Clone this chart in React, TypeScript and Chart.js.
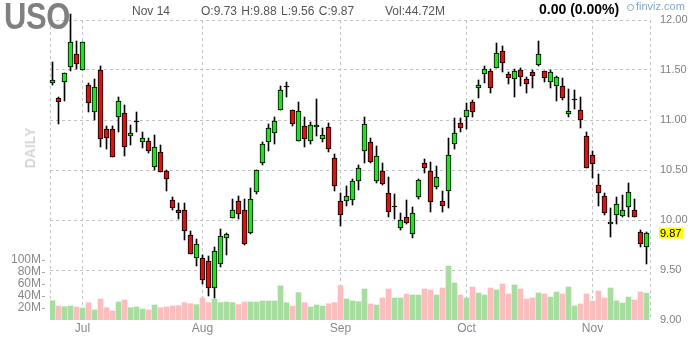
import React, { useEffect, useRef } from 'react';
import { Chart, registerables } from 'chart.js';

Chart.register(...registerables);

// Daily USO candles, Jun 24 – Nov 14 (one entry per trading day)
const opens = [
  11.37, 11.22, 11.38, 11.53, 11.66, 11.50, 11.35, 11.08, 11.50, 10.91,
  10.91, 11.03, 11.07, 10.84, 10.98, 10.78, 10.79, 10.53, 10.68, 10.49,
  10.20, 10.10, 10.10, 9.85, 9.62, 9.62, 9.59, 9.32, 9.56, 9.82,
  10.02, 10.19, 10.10, 9.87, 10.28, 10.57, 10.78, 10.87, 11.10, 11.33,
  11.10, 10.79, 10.94, 10.79, 10.93, 10.81, 10.93, 10.62, 10.19, 10.19,
  10.20, 10.39, 10.69, 10.78, 10.39, 10.49, 10.27, 10.13, 9.92, 10.03,
  9.86, 10.23, 10.57, 10.49, 10.33, 10.19, 10.29, 10.76, 10.97, 11.03,
  11.18, 11.32, 11.46, 11.49, 11.52, 11.69, 11.46, 11.41, 11.50, 11.41,
  11.48, 11.55, 11.49, 11.38, 11.34, 11.34, 11.06, 11.20, 11.10, 10.84,
  10.65, 10.35, 10.24, 9.96, 10.05, 10.04, 10.13, 10.10, 9.88, 9.73,
];
const highs = [
  11.58, 11.23, 11.47, 12.06, 11.79, 11.78, 11.37, 11.41, 11.54, 10.94,
  10.94, 11.23, 11.15, 10.95, 11.08, 10.88, 10.82, 10.85, 10.75, 10.50,
  10.23, 10.17, 10.17, 9.89, 9.81, 9.65, 9.64, 9.73, 9.91, 9.87,
  10.21, 10.24, 10.21, 10.32, 10.50, 10.78, 10.96, 11.03, 11.34, 11.38,
  11.10, 11.18, 11.03, 10.98, 11.21, 10.92, 10.97, 10.66, 10.27, 10.34,
  10.41, 10.55, 11.03, 10.82, 10.74, 10.57, 10.43, 10.26, 10.07, 10.20,
  10.13, 10.41, 10.61, 10.58, 10.54, 10.29, 10.82, 11.02, 11.02, 11.17,
  11.20, 11.40, 11.54, 11.51, 11.77, 11.74, 11.48, 11.51, 11.52, 11.43,
  11.50, 11.79, 11.49, 11.50, 11.44, 11.42, 11.31, 11.30, 11.23, 10.88,
  10.69, 10.46, 10.27, 10.12, 10.23, 10.25, 10.37, 10.21, 9.90, 9.88,
];
const lows = [
  11.35, 10.96, 11.19, 11.49, 11.51, 11.50, 11.08, 11.00, 10.73, 10.71,
  10.63, 10.88, 10.64, 10.75, 10.88, 10.72, 10.67, 10.50, 10.48, 10.29,
  10.10, 10.01, 9.80, 9.66, 9.54, 9.36, 9.24, 9.22, 9.53, 9.65,
  10.02, 10.01, 9.75, 9.86, 10.26, 10.55, 10.69, 10.76, 11.10, 11.23,
  10.94, 10.79, 10.73, 10.76, 10.84, 10.78, 10.68, 10.29, 9.94, 10.14,
  10.15, 10.30, 10.57, 10.57, 10.37, 10.35, 10.03, 10.01, 9.90, 9.96,
  9.82, 10.21, 10.47, 10.08, 10.31, 10.08, 10.12, 10.71, 10.88, 10.91,
  11.03, 11.22, 11.37, 11.27, 11.52, 11.48, 11.36, 11.23, 11.34, 11.27,
  11.32, 11.54, 11.38, 11.32, 11.19, 11.20, 11.03, 11.11, 10.92, 10.52,
  10.42, 10.14, 10.05, 9.83, 9.96, 10.03, 10.03, 10.03, 9.73, 9.56,
];
const closes = [
  11.40, 11.18, 11.47, 11.78, 11.56, 11.78, 11.17, 11.33, 10.81, 10.82,
  10.63, 11.19, 10.73, 10.87, 10.99, 10.82, 10.69, 10.73, 10.48, 10.41,
  10.12, 10.07, 9.89, 9.66, 9.76, 9.40, 9.32, 9.69, 9.84, 9.86,
  10.10, 10.06, 9.76, 10.21, 10.50, 10.76, 10.92, 10.99, 11.30, 11.34,
  10.96, 11.09, 10.81, 10.95, 10.95, 10.85, 10.71, 10.34, 10.05, 10.24,
  10.39, 10.52, 10.96, 10.58, 10.64, 10.36, 10.08, 10.14, 10.00, 9.97,
  10.07, 10.40, 10.52, 10.18, 10.43, 10.14, 10.65, 10.87, 10.92, 11.10,
  11.08, 11.35, 11.51, 11.32, 11.67, 11.57, 11.42, 11.49, 11.43, 11.36,
  11.44, 11.66, 11.42, 11.48, 11.43, 11.22, 11.09, 11.21, 11.00, 10.52,
  10.56, 10.27, 10.07, 9.98, 10.16, 10.10, 10.28, 10.03, 9.76, 9.87,
];
// volume in millions of shares
const volumes = [
  32.2, 23.3, 22.2, 23.3, 21.7, 20.0, 28.9, 16.7, 35.0, 20.6,
  15.0, 30.0, 33.3, 20.6, 21.7, 18.3, 16.7, 25.0, 20.6, 21.7,
  23.3, 23.9, 28.9, 27.2, 25.6, 36.7, 28.9, 35.0, 28.9, 30.0,
  28.9, 25.6, 30.0, 30.0, 30.0, 31.7, 31.7, 31.7, 56.7, 28.9,
  23.3, 45.6, 28.9, 21.7, 25.0, 23.3, 27.2, 28.9, 57.2, 35.0,
  31.7, 30.6, 51.7, 26.7, 25.0, 36.7, 51.7, 36.7, 36.7, 43.3,
  41.7, 41.7, 51.7, 50.0, 41.7, 53.3, 90.0, 61.7, 41.7, 36.7,
  55.0, 45.0, 41.7, 53.3, 50.0, 60.0, 43.3, 58.3, 51.7, 35.0,
  36.7, 45.0, 43.3, 38.3, 46.7, 43.3, 55.0, 23.3, 26.7, 43.3,
  31.7, 48.3, 36.7, 53.3, 31.7, 28.3, 38.3, 33.3, 46.7, 44.72,
];

const monthLabels = ['Jul', 'Aug', 'Sep', 'Oct', 'Nov'];
const monthStartIndex = [5, 25, 48, 69, 90];
const priceTicks = [9.0, 9.5, 10.0, 10.5, 11.0, 11.5, 12.0];
const volumeTicks = [20, 40, 60, 80, 100];

const GREEN = '#1ee31e';
const RED = '#dc1212';
const VOL_GREEN = 'rgb(168,221,160)';
const VOL_RED = 'rgb(250,190,190)';
const GRID = '#c4c4c4';
const FONT = '"Liberation Sans", Arial, sans-serif';

const X_MIN = -2.5 / 6;
const X_MAX = opens.length - 2.5 / 6;

export default function App() {
  const canvasRef = useRef<HTMLCanvasElement | null>(null);

  useEffect(() => {
    if (!canvasRef.current) return;
    const idx = opens.map((_, i) => i);
    const isUp = (i: number) => closes[i] >= opens[i];
    const isDoji = (i: number) => Math.abs(closes[i] - opens[i]) < 0.015;

    // dashed grid drawn from the chart's own scales
    const dashedGridPlugin = {
      id: 'dashedGrid',
      beforeDatasetsDraw(chart: any) {
        const { ctx, chartArea, scales } = chart;
        const a = (v: number) => Math.round(v - 0.5) + 0.5;
        ctx.save();
        ctx.strokeStyle = GRID;
        ctx.lineWidth = 1;
        ctx.setLineDash([3, 3]);
        ctx.beginPath();
        [X_MIN, ...monthStartIndex, X_MAX].forEach((v) => {
          const x = a(scales.x.getPixelForValue(v));
          ctx.moveTo(x, chartArea.top);
          ctx.lineTo(x, chartArea.bottom);
        });
        priceTicks.slice(1).forEach((v) => {
          const y = a(scales.y.getPixelForValue(v));
          ctx.moveTo(chartArea.left, y);
          ctx.lineTo(chartArea.right, y);
        });
        ctx.stroke();
        ctx.restore();
      },
    };

    const lastPricePlugin = {
      id: 'lastPrice',
      afterDraw(chart: any) {
        const ctx = chart.ctx;
        const last = closes[closes.length - 1];
        const y = chart.scales.y.getPixelForValue(last);
        ctx.save();
        ctx.fillStyle = '#ffff00';
        ctx.fillRect(659, Math.round(y) - 5.5, 24, 11);
        ctx.fillStyle = '#000';
        ctx.font = '11px ' + FONT;
        ctx.textBaseline = 'middle';
        ctx.textAlign = 'left';
        ctx.fillText(last.toFixed(2), 660, y + 0.5);
        ctx.restore();
      },
    };

    const chart = new Chart(canvasRef.current, {
      type: 'bar',
      data: {
        datasets: [
          {
            label: 'body',
            data: idx.map((i) => ({ x: i, y: [opens[i], closes[i]] })),
            backgroundColor: idx.map((i) => (isDoji(i) ? '#000' : isUp(i) ? GREEN : RED)),
            borderColor: '#000',
            borderWidth: 1,
            borderSkipped: false,
            barThickness: 5,
            grouped: false,
            yAxisID: 'y',
            order: 1,
            clip: false,
          } as any,
          {
            label: 'wick',
            data: idx.map((i) => ({ x: i, y: [lows[i], highs[i]] })),
            backgroundColor: '#000',
            borderWidth: 0,
            barThickness: 1,
            grouped: false,
            yAxisID: 'y',
            order: 2,
            clip: false,
          } as any,
          {
            label: 'volume',
            data: idx.map((i) => ({ x: i, y: volumes[i] })),
            backgroundColor: idx.map((i) => (isUp(i) ? VOL_GREEN : VOL_RED)),
            borderWidth: 0,
            barThickness: 5,
            grouped: false,
            yAxisID: 'yVol',
            order: 3,
          } as any,
        ],
      },
      options: {
        animation: false,
        responsive: false,
        maintainAspectRatio: false,
        events: [],
        layout: { padding: { top: 20, left: 0, right: 0, bottom: 0 } },
        plugins: { legend: { display: false }, tooltip: { enabled: false }, title: { display: false } },
        scales: {
          x: {
            type: 'linear',
            min: X_MIN,
            max: X_MAX,
            offset: false,
            afterBuildTicks: (scale: any) => {
              scale.ticks = monthStartIndex.map((v) => ({ value: v }));
            },
            afterFit: (scale: any) => {
              scale.height = 20;
            },
            ticks: {
              autoSkip: false,
              maxRotation: 0,
              padding: 1,
              color: '#888',
              font: { size: 12, family: FONT },
              callback: (value: any) => {
                const k = monthStartIndex.indexOf(value);
                return k >= 0 ? monthLabels[k] : '';
              },
            },
            grid: { display: false, drawTicks: false },
            border: { display: false },
          },
          y: {
            type: 'linear',
            position: 'right',
            min: priceTicks[0],
            max: priceTicks[priceTicks.length - 1],
            afterBuildTicks: (scale: any) => {
              scale.ticks = priceTicks.map((v) => ({ value: v }));
            },
            afterFit: (scale: any) => {
              scale.width = 50;
            },
            ticks: {
              padding: 10,
              color: '#808080',
              font: { size: 11, family: FONT },
              callback: (value: any) => Number(value).toFixed(2),
            },
            grid: { display: false, drawTicks: false },
            border: { display: false },
          },
          yVol: {
            type: 'linear',
            position: 'left',
            min: 0,
            max: 500,
            afterBuildTicks: (scale: any) => {
              scale.ticks = volumeTicks.map((v) => ({ value: v }));
            },
            afterFit: (scale: any) => {
              scale.width = 50;
            },
            ticks: {
              padding: 1,
              color: '#888',
              font: { size: 12, family: FONT },
              callback: (value: any) => value + 'M',
            },
            grid: {
              drawOnChartArea: false,
              drawTicks: true,
              tickLength: 8,
              tickColor: '#aaa',
              tickBorderDash: [3, 5],
            },
            border: { display: false },
          },
        },
      },
      plugins: [dashedGridPlugin, lastPricePlugin],
    } as any);

    return () => chart.destroy();
  }, []);

  const headText: React.CSSProperties = {
    position: 'absolute',
    fontFamily: FONT,
    fontSize: 12,
    lineHeight: '12px',
    color: '#555',
    whiteSpace: 'nowrap',
  };

  return (
    <div style={{ position: 'fixed', left: 0, top: 0, width: 700, height: 340, background: '#fff', overflow: 'hidden' }}>
      <canvas ref={canvasRef} width={700} height={340} style={{ position: 'absolute', left: 0, top: 0, width: 700, height: 340 }} />
      <div
        style={{
          position: 'absolute',
          left: 4,
          top: -1,
          fontFamily: FONT,
          fontWeight: 'bold',
          fontSize: 36,
          lineHeight: '36px',
          color: '#808080',
          transform: 'scaleX(0.86)',
          transformOrigin: 'left top',
          letterSpacing: -0.5,
        }}
      >
        USO
      </div>
      <div style={{ ...headText, left: 132, top: 5 }}>Nov 14</div>
      <div style={{ ...headText, left: 201, top: 5, wordSpacing: 1 }}>O:9.73 H:9.88 L:9.56 C:9.87</div>
      <div style={{ ...headText, left: 385, top: 5 }}>Vol:44.72M</div>
      <div style={{ ...headText, left: 539, top: 2, fontSize: 14, lineHeight: '14px', fontWeight: 'bold', color: '#000' }}>
        0.00 (0.00%)
      </div>
      <div style={{ ...headText, left: 627, top: 1, fontSize: 11, lineHeight: '11px', color: '#86a6c8' }}>
        <span
          style={{
            display: 'inline-block',
            width: 5,
            height: 5,
            border: '1px solid #86a6c8',
            borderRadius: '50%',
            marginRight: 2,
            verticalAlign: 'middle',
          }}
        />
        finviz.com
      </div>
      <div
        style={{
          position: 'absolute',
          left: 29.5,
          top: 148,
          transform: 'translate(-50%, -50%) rotate(-90deg)',
          fontFamily: FONT,
          fontWeight: 'bold',
          fontSize: 14,
          lineHeight: '14px',
          color: '#d6d6d6',
          whiteSpace: 'nowrap',
        }}
      >
        DAILY
      </div>
    </div>
  );
}
